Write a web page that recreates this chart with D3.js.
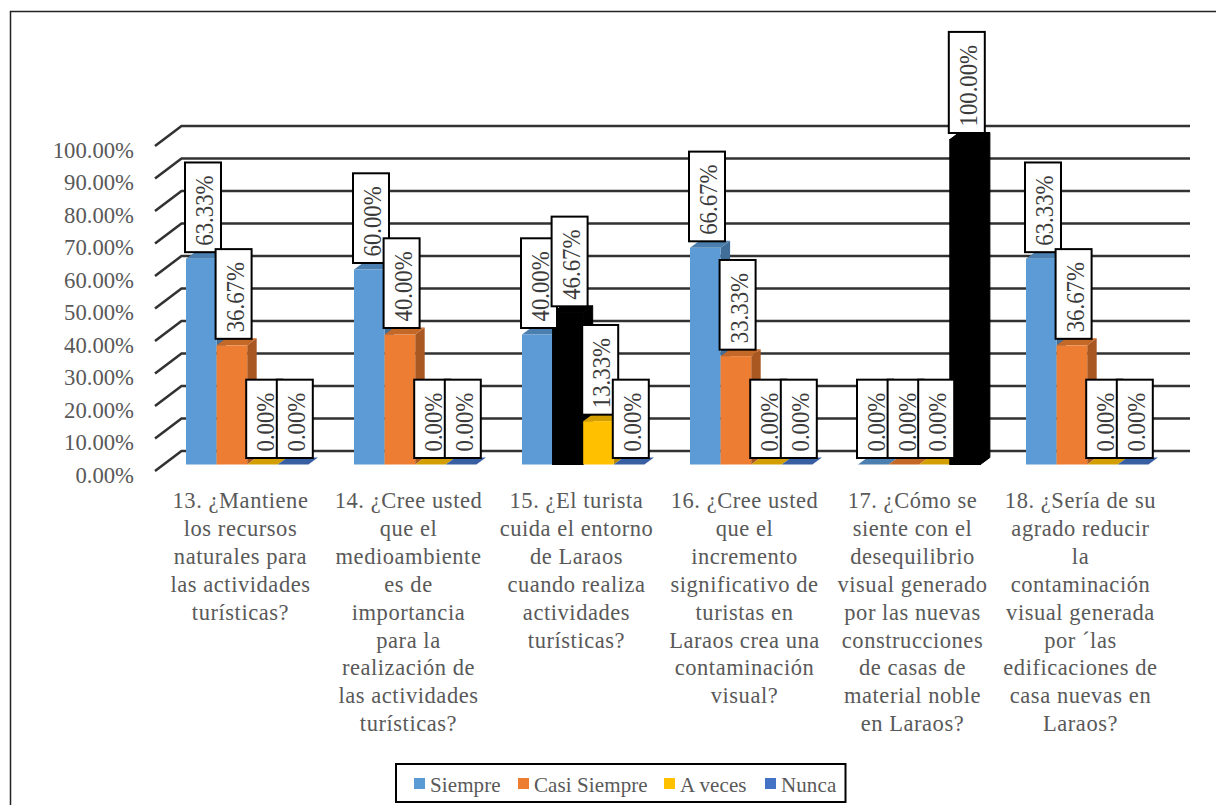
<!DOCTYPE html>
<html><head><meta charset="utf-8">
<script src="https://cdn.jsdelivr.net/npm/d3@7"></script>
<style>html,body{margin:0;padding:0;background:#fff;overflow:hidden}svg{display:block}text{font-family:"Liberation Serif","Times New Roman",serif}</style>
</head><body><svg id="c" width="1216" height="805"></svg>
<script>
const categories = [
 ["13. ¿Mantiene","los recursos","naturales para","las actividades","turísticas?"],
 ["14. ¿Cree usted","que el","medioambiente","es de","importancia","para la","realización de","las actividades","turísticas?"],
 ["15. ¿El turista","cuida el entorno","de Laraos","cuando realiza","actividades","turísticas?"],
 ["16. ¿Cree usted","que el","incremento","significativo de","turistas en","Laraos crea una","contaminación","visual?"],
 ["17. ¿Cómo se","siente con el","desequilibrio","visual generado","por las nuevas","construcciones","de casas de","material noble","en Laraos?"],
 ["18. ¿Sería de su","agrado reducir","la","contaminación","visual generada","por ´las","edificaciones de","casa nuevas en","Laraos?"]
];
const seriesNames = ["Siempre","Casi Siempre","A veces","Nunca"];
const siempre     = [63.33,60.00,40.00,66.67,0,63.33];
const casiSiempre = [36.67,40.00,46.67,33.33,0,36.67];
const aVeces      = [0,0,13.33,0,0,0];
const nunca       = [0,0,0,0,100,0];
const seriesValues = [siempre,casiSiempre,aVeces,nunca];
const seriesColors = ["#5B9BD5","#ED7D31","#FFC000","#4472C4"];
const blackPoints = [[1,2],[3,4]]; // [series, category] painted black in the original
const yTicks = [0,10,20,30,40,50,60,70,80,90,100];

const svg = d3.select("#c");
const depthX = 9.5, depthY = 7, tickDX = 26.5, tickDY = 20;
const y = d3.scaleLinear().domain([0,100]).range([464.5,139.5]);
const gx = d3.scaleBand().domain(d3.range(categories.length)).range([155,1163]);
const sx = d3.scaleBand().domain(d3.range(seriesNames.length)).range([31,153.4]);
const defs = svg.append("defs");
const addBlur=(id,sd)=>defs.append("filter").attr("id",id)
  .attr("filterUnits","userSpaceOnUse").attr("x",0).attr("y",0).attr("width",1216).attr("height",805)
  .append("feGaussianBlur").attr("stdDeviation",sd);
addBlur("soft",0.6); addBlur("softer",0.7);

// chart frame
svg.append("path").attr("d","M10.5,805V11.5H1216").attr("fill","none").attr("stroke","#222").attr("stroke-width",1.5);

// gridlines + depth ticks
const grid = svg.append("g").attr("filter","url(#softer)");
yTicks.forEach(t=>{
  const back = y(t) - 13.5;
  grid.append("path")
    .attr("d",`M155,${back+tickDY}L${155+tickDX},${back}H1190`)
    .attr("fill","none").attr("stroke","#333").attr("stroke-width",2.6);
});
// axis labels
svg.append("g").selectAll("text").data(yTicks).join("text")
  .attr("x",134).attr("y",t=>y(t)+18)
  .attr("text-anchor","end").attr("font-size",22.7).attr("fill","#595959")
  .text(t=>t.toFixed(2)+"%");

// bars
const bars = svg.append("g").attr("filter","url(#soft)");
const isBlack=(s,c)=>blackPoints.some(p=>p[0]===s&&p[1]===c);
seriesValues.forEach((vals,s)=>{
  vals.forEach((v,c)=>{
    const k = isBlack(s,c);
    const x0 = gx(c)+sx(s), w = sx.bandwidth(), yt=y(v), yb=y(0);
    const base = k?"#000":seriesColors[s];
    const top = k?"#000":d3.color(seriesColors[s]).darker(0.55).formatHex();
    const side = k?"#000":d3.color(seriesColors[s]).darker(0.95).formatHex();
    const edge = p=>k?p.attr("stroke","#000").attr("stroke-width",1):p;
    if(v>0) edge(bars.append("path").attr("fill",side)
      .attr("d",`M${x0+w},${yt}L${x0+w+depthX},${yt-depthY}V${yb-depthY}L${x0+w},${yb}Z`));
    edge(bars.append("path").attr("fill",top)
      .attr("d",`M${x0},${yt}L${x0+depthX},${yt-depthY}H${x0+w+depthX}L${x0+w},${yt}Z`));
    if(v>0) edge(bars.append("rect").attr("x",x0).attr("y",yt).attr("width",w).attr("height",yb-yt).attr("fill",base));
  });
});

// data labels
const labels = svg.append("g");
const padStart = 6.5, padEnd = 13, boxW = 36, squeeze = 0.93;
seriesValues.forEach((vals,s)=>{
  vals.forEach((v,c)=>{
    const cx = gx(c)+sx(s)+sx.bandwidth()/2+1.7, bottom = y(v)-6.5;
    const g = labels.append("g");
    const r = g.append("rect");
    const t = g.append("text").attr("font-size",24.5).attr("fill","#3a3a3a")
      .attr("transform",`translate(${cx+10},${bottom-padStart}) rotate(-90) scale(${squeeze},1)`).text(v.toFixed(2)+"%");
    const len = t.node().getComputedTextLength()*squeeze+padStart+padEnd;
    r.attr("x",cx-boxW/2).attr("y",bottom-len).attr("width",boxW).attr("height",len)
     .attr("fill","#fff").attr("stroke","#000").attr("stroke-width",2);
  });
});

// category labels
const cat = svg.append("g");
categories.forEach((lines,c)=>{
  const t = cat.append("text").attr("text-anchor","middle").attr("font-size",22.5).attr("letter-spacing",0.55).attr("fill","#595959");
  lines.forEach((l,i)=>t.append("tspan").attr("x",gx(c)+gx.bandwidth()/2+1.5).attr("y",508.3+i*27.85).text(l));
});

// legend
const lg = svg.append("g");
lg.append("rect").attr("x",396).attr("y",764).attr("width",449.5).attr("height",38).attr("fill","#fff").attr("stroke","#000").attr("stroke-width",2);
const legendX = [414,518,664,765];
seriesNames.forEach((n,i)=>{
  lg.append("rect").attr("x",legendX[i]).attr("y",778).attr("width",11).attr("height",11).attr("fill",seriesColors[i]);
  lg.append("text").attr("x",legendX[i]+16).attr("y",792).attr("font-size",21).attr("letter-spacing",0.1).attr("fill","#595959").text(n);
});
</script></body></html>
